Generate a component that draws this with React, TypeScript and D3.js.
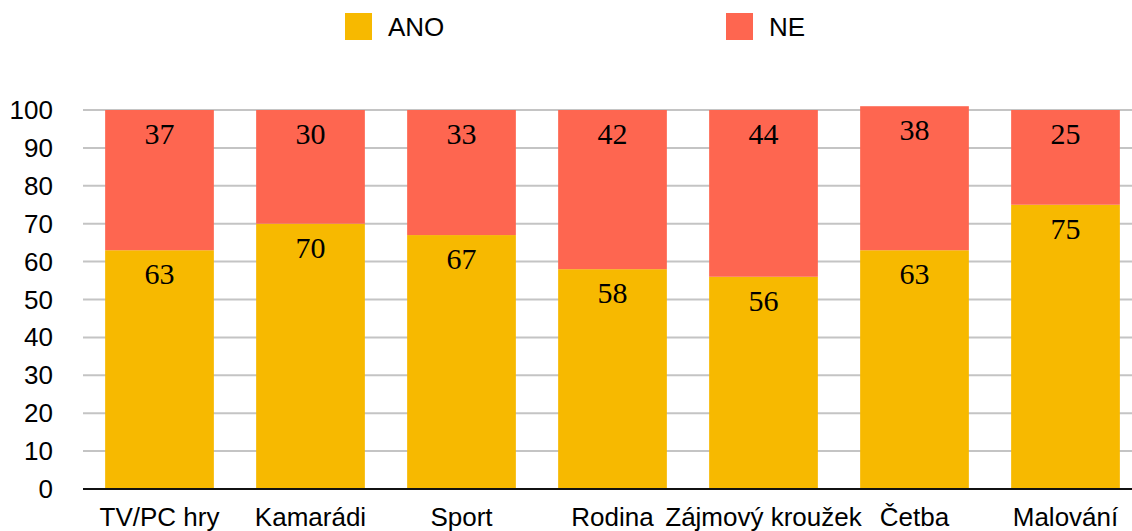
import React, { useRef, useEffect } from 'react';
import * as d3 from 'd3';

const categories = ['TV/PC hry', 'Kamarádi', 'Sport', 'Rodina', 'Zájmový kroužek', 'Četba', 'Malování'];
const anoValues = [63, 70, 67, 58, 56, 63, 75];
const neValues = [37, 30, 33, 42, 44, 38, 25];
const yTicks = [0, 10, 20, 30, 40, 50, 60, 70, 80, 90, 100];
const seriesNames = ['ANO', 'NE'];
const colors = ['#f7b900', '#fe6650'];

const W = 1132;
const H = 531;
const SANS = '"Liberation Sans", Arial, sans-serif';
const SERIF = '"Liberation Serif", "Times New Roman", serif';

const App = () => {
    const svgRef = useRef<SVGSVGElement>(null);

    useEffect(() => {
        const svg = d3.select(svgRef.current);
        svg.selectAll('*').remove();

        const x = d3.scaleBand().domain(categories).range([84, 1141]).paddingInner(0.28).paddingOuter(0.14);
        const y = d3.scaleLinear().domain([0, 100]).range([489, 110]);

        // grid
        svg.append('g')
            .selectAll('line')
            .data(yTicks.filter(t => t > 0))
            .enter()
            .append('line')
            .attr('x1', 83)
            .attr('x2', W)
            .attr('y1', d => y(d))
            .attr('y2', d => y(d))
            .attr('stroke', '#c4c4c4')
            .attr('stroke-width', 2);

        // tick labels
        svg.append('g')
            .selectAll('text')
            .data(yTicks)
            .enter()
            .append('text')
            .attr('x', 53)
            .attr('y', d => y(d))
            .attr('text-anchor', 'end')
            .attr('dominant-baseline', 'central')
            .style('font-family', SANS)
            .style('font-size', '26px')
            .style('fill', '#000')
            .text(d => d);

        const rows = categories.map((c, i) => ({ c, ano: anoValues[i], ne: neValues[i] }));
        const stacked = d3.stack<any>().keys(['ano', 'ne'])(rows);

        stacked.forEach((layer, li) => {
            const g = svg.append('g');
            g.selectAll('rect')
                .data(layer)
                .enter()
                .append('rect')
                .attr('x', d => x(d.data.c)!)
                .attr('width', x.bandwidth())
                .attr('y', d => y(d[1]))
                .attr('height', d => y(d[0]) - y(d[1]))
                .attr('fill', colors[li]);
            g.selectAll('text')
                .data(layer)
                .enter()
                .append('text')
                .attr('x', d => x(d.data.c)! + x.bandwidth() / 2)
                .attr('y', d => y(d[1]) + 34)
                .attr('text-anchor', 'middle')
                .style('font-family', SERIF)
                .style('font-size', '30px')
                .style('fill', '#000')
                .text(d => d[1] - d[0]);
        });

        // axis line
        svg.append('line')
            .attr('x1', 83)
            .attr('x2', W)
            .attr('y1', y(0))
            .attr('y2', y(0))
            .attr('stroke', '#111')
            .attr('stroke-width', 2);

        // category labels
        svg.append('g')
            .selectAll('text')
            .data(categories)
            .enter()
            .append('text')
            .attr('x', d => x(d)! + x.bandwidth() / 2)
            .attr('y', 526)
            .attr('text-anchor', 'middle')
            .style('font-family', SANS)
            .style('font-size', '26px')
            .style('fill', '#000')
            .text(d => d);

        // legend
        const legendX = [345, 726];
        seriesNames.forEach((name, i) => {
            svg.append('rect')
                .attr('x', legendX[i])
                .attr('y', 13)
                .attr('width', 27)
                .attr('height', 27)
                .attr('fill', colors[i]);
            svg.append('text')
                .attr('x', legendX[i] + 43)
                .attr('y', 27)
                .attr('dominant-baseline', 'central')
                .style('font-family', SANS)
                .style('font-size', '26px')
                .style('fill', '#000')
                .text(name);
        });
    }, []);

    return (
        <svg
            ref={svgRef}
            width={W}
            height={H}
            style={{ position: 'absolute', left: 0, top: 0, background: '#fff' }}
        ></svg>
    );
};

export default App;
